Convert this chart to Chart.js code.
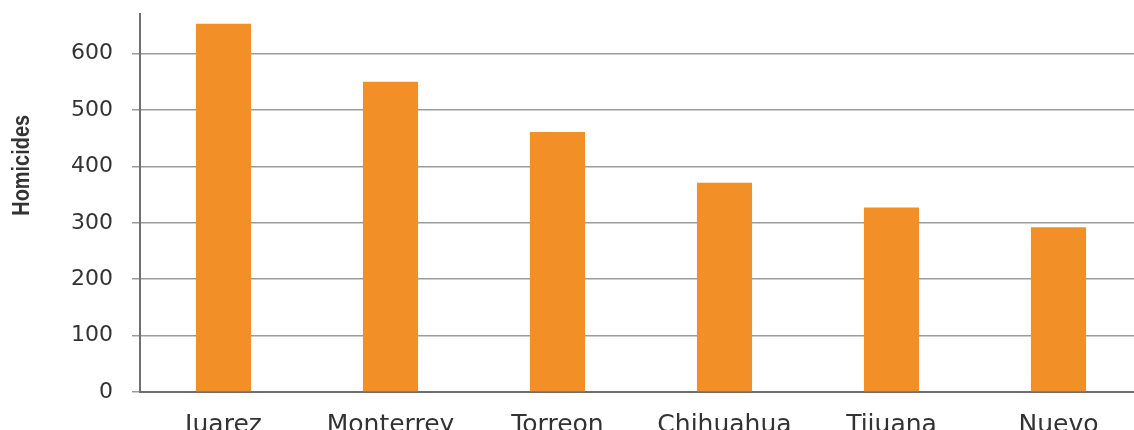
<!DOCTYPE html>
<html>
<head>
<meta charset="utf-8">
<title>Homicides by city</title>
<script src="https://cdn.jsdelivr.net/npm/chart.js@4.4.1/dist/chart.umd.min.js"></script>
<style>
  html, body { margin: 0; padding: 0; background: #fff; overflow: hidden; }
  #wrap { position: absolute; left: 0; top: -18px; width: 1142px; height: 458px; }
</style>
</head>
<body>
<div id="wrap"><canvas id="cityChart"></canvas></div>
<script>
// Cities and homicide counts
const cities = ['Juarez', 'Monterrey', 'Torreon', 'Chihuahua', 'Tijuana', 'Nuevo'];
const homicides = [653, 550, 461, 371, 327, 292];
const yTicks = [0, 100, 200, 300, 400, 500, 600];
const yAxisLabel = 'Homicides';

const barColor = '#f28f27';
const gridColor = '#9c9c9c';
const axisColor = '#6f6f6f';
const textColor = '#333333';

// Rotated, condensed axis title, sitting a bit above the middle of the plot
const axisTitlePlugin = {
  id: 'axisTitle',
  afterDraw(chart) {
    const { ctx, chartArea } = chart;
    const y = chartArea.top + (chartArea.bottom - chartArea.top) * 0.4;
    ctx.save();
    ctx.translate(22, y);
    ctx.rotate(-Math.PI / 2);
    ctx.scale(0.83, 1);
    ctx.font = 'bold 24px "Liberation Sans", Arial, sans-serif';
    ctx.fillStyle = textColor;
    ctx.textAlign = 'center';
    ctx.textBaseline = 'middle';
    ctx.fillText(yAxisLabel, 0, 0);
    ctx.restore();
  }
};

new Chart(document.getElementById('cityChart'), {
  type: 'bar',
  data: {
    labels: cities,
    datasets: [{
      label: yAxisLabel,
      data: homicides,
      backgroundColor: barColor,
      borderWidth: 0,
      barPercentage: 0.33,
      categoryPercentage: 1.0
    }]
  },
  options: {
    responsive: true,
    maintainAspectRatio: false,
    animation: false,
    layout: { padding: { top: -6, right: 0, left: 0, bottom: 0 } },
    plugins: {
      legend: { display: false },
      tooltip: { enabled: false }
    },
    scales: {
      x: {
        offset: true,
        grid: { display: false, drawTicks: false },
        border: { display: true, color: axisColor, width: 2 },
        ticks: {
          color: textColor,
          padding: 18,
          font: { family: '"DejaVu Sans", sans-serif', size: 25 }
        },
        afterFit(scale) { scale.height = 48; }
      },
      y: {
        min: 0,
        max: 670,
        afterBuildTicks(scale) {
          scale.ticks = yTicks.map(v => ({ value: v }));
        },
        grid: {
          color: gridColor,
          lineWidth: 1.5,
          tickLength: 8,
          drawTicks: true
        },
        border: { display: true, color: axisColor, width: 2 },
        ticks: {
          color: textColor,
          padding: 19,
          font: { family: '"DejaVu Sans", sans-serif', size: 22 }
        },
        afterFit(scale) { scale.width = 140; }
      }
    }
  },
  plugins: [axisTitlePlugin]
});
</script>
</body>
</html>
